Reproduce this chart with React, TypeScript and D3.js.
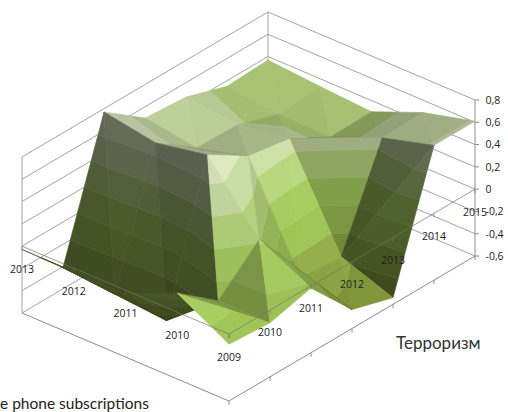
import React from "react";
import * as d3 from "d3";

const xYears = ["2009", "2010", "2011", "2012", "2013", "2014", "2015"];
const seriesYears = ["2009", "2010", "2011", "2012", "2013"];
const zTicks = [-0.6, -0.4, -0.2, 0, 0.2, 0.4, 0.6, 0.8];
const zTickLabels = ["-0,6", "-0,4", "-0,2", "0", "0,2", "0,4", "0,6", "0,8"];

const row2009 = [-0.09, -0.115, -0.02, -0.43, -0.54, 0.61, 0.61];
const row2010 = [0.17, -0.115, 0.22, -0.34, -0.37, 0.48, 0.49];
const row2011 = [-0.03, -0.49, 0.78, 0.55, 0.49, 0.29, 0.3];
const row2012 = [-0.03, -0.45, 0.69, 0.43, 0.42, 0.3, 0.33];
const row2013 = [-0.03, -0.41, 0.77, 0.5, 0.47, 0.35, 0.37];
const rows = [row2009, row2010, row2011, row2012, row2013];

// which diagonal splits each cell: 0 = (u,v)-(u+1,v+1), 1 = (u+1,v)-(u,v+1)
const diag2009 = [1, 0, 1, 0, 1, 0];
const diag2010 = [0, 0, 0, 0, 1, 0];
const diag2011 = [0, 0, 0, 0, 0, 0];
const diag2012 = [0, 0, 0, 0, 1, 0];
const diagonals = [diag2009, diag2010, diag2011, diag2012];

const bandEdges = [-0.6, -0.4, -0.2, 0, 0.2, 0.4, 0.6, 0.8];
const bandColors = ["#869e3e", "#95b04a", "#a0c558", "#a8ce62", "#b9d87f", "#cfe3a8", "#e4efc4"];

const uScale = d3.scalePoint<string>().domain(xYears).range([0, 1]);
const vScale = d3.scalePoint<string>().domain(seriesYears).range([0, 1]);
const zScale = d3.scaleLinear().domain([-0.6, 0.8]).range([0, 156]);

const origin = [229, 401];
const uVec = [246, -145];
const vVec = [-207, -88];

type P = { u: number; v: number; z: number };
const project = (u: number, v: number, z: number): [number, number] => [
  origin[0] + u * uVec[0] + v * vVec[0],
  origin[1] + u * uVec[1] + v * vVec[1] - zScale(z),
];
const pointAt = (ui: number, vi: number): P => ({
  u: uScale(xYears[ui])!,
  v: vScale(seriesYears[vi])!,
  z: rows[vi][ui],
});

const lineGen = d3.line<[number, number]>();
const path3 = (pts: [number, number, number][]) => lineGen(pts.map((p) => project(p[0], p[1], p[2])))!;

function clip(poly: P[], limit: number, keepAbove: boolean): P[] {
  const out: P[] = [];
  for (let i = 0; i < poly.length; i++) {
    const a = poly[i];
    const b = poly[(i + 1) % poly.length];
    const ina = keepAbove ? a.z >= limit : a.z <= limit;
    const inb = keepAbove ? b.z >= limit : b.z <= limit;
    if (ina) out.push(a);
    if (ina !== inb) {
      const t = (limit - a.z) / (b.z - a.z);
      out.push({ u: a.u + t * (b.u - a.u), v: a.v + t * (b.v - a.v), z: limit });
    }
  }
  return out;
}

const CELLS_U = xYears.length - 1;
const CELLS_V = seriesYears.length - 1;

function shade(tri: P[]): number {
  const k = 2;
  const ax = (tri[1].u - tri[0].u) * CELLS_U;
  const ay = (tri[1].v - tri[0].v) * CELLS_V;
  const az = (tri[1].z - tri[0].z) * k;
  const bx = (tri[2].u - tri[0].u) * CELLS_U;
  const by = (tri[2].v - tri[0].v) * CELLS_V;
  const bz = (tri[2].z - tri[0].z) * k;
  let nx = ay * bz - az * by;
  let ny = az * bx - ax * bz;
  let nz = ax * by - ay * bx;
  if (nz < 0) {
    nx = -nx;
    ny = -ny;
    nz = -nz;
  }
  const len = Math.hypot(nx, ny, nz);
  nx /= len;
  ny /= len;
  nz /= len;
  // backface check on screen
  const s = tri.map((p) => project(p.u, p.v, p.z));
  const f = tri.map((p) => [origin[0] + p.u * uVec[0] + p.v * vVec[0], origin[1] + p.u * uVec[1] + p.v * vVec[1]]);
  const cross = (q: number[][]) => (q[1][0] - q[0][0]) * (q[2][1] - q[0][1]) - (q[1][1] - q[0][1]) * (q[2][0] - q[0][0]);
  if (cross(s) * cross(f) < 0) return 0.42;
  const val = 0.47 - 0.25 * nx * nx - 0.38 * ny + 0.4 * nz;
  return Math.max(0.4, Math.min(1, val));
}

type Poly = { d: string; fill: string };
function buildSurface(): Poly[] {
  const polys: Poly[] = [];
  for (let vi = CELLS_V - 1; vi >= 0; vi--) {
    for (let ui = CELLS_U - 1; ui >= 0; ui--) {
      const a = pointAt(ui, vi);
      const b = pointAt(ui + 1, vi);
      const c = pointAt(ui + 1, vi + 1);
      const d = pointAt(ui, vi + 1);
      const tris = diagonals[vi][ui] === 0 ? [[a, c, d], [a, b, c]] : [[b, c, d], [a, b, d]];
      for (const tri of tris) {
        const f = shade(tri);
        bandColors.forEach((col, i) => {
          let poly = clip(tri, bandEdges[i], true);
          if (poly.length) poly = clip(poly, bandEdges[i + 1], false);
          if (poly.length < 3) return;
          const rgb = d3.rgb(col);
          const fill = d3.rgb(rgb.r * f, rgb.g * f, rgb.b * f).formatHex();
          polys.push({ d: lineGen(poly.map((p) => project(p.u, p.v, p.z)))! + "Z", fill });
        });
      }
    }
  }
  return polys;
}

const GRID = "#a3a3a3";
const AXIS = "#8c8c8c";
const tickFont = "'Open Sans', 'Noto Sans', sans-serif";
const titleFont = "Lato, 'Noto Sans', sans-serif";

export default function App() {
  const surface = buildSurface();
  const zPlaneFrontV = xYears.map((y) => uScale(y)!);
  const zPlaneFrontU = seriesYears.map((y) => vScale(y)!);
  return (
    <svg width={508} height={412} style={{ position: "absolute", left: 0, top: 0, display: "block", background: "#fff" }}>
      {/* walls */}
      {zTicks.map((z) => (
        <g key={z} stroke={GRID} strokeWidth={1} fill="none">
          <path d={path3([[0, 1, z], [1, 1, z], [1, 0, z]])} />
        </g>
      ))}
      <path d={path3([[0, 1, -0.6], [0, 1, 0.8]])} stroke={GRID} fill="none" />
      <path d={path3([[1, 1, -0.6], [1, 1, 0.8]])} stroke={GRID} fill="none" />
      <path d={path3([[1, 0, -0.6], [1, 0, 0.8]])} stroke={AXIS} fill="none" />
      {/* floor front */}
      <path d={path3([[0, 1, -0.6], [0, 0, -0.6], [1, 0, -0.6]])} stroke={AXIS} fill="none" />
      {zPlaneFrontV.map((u) => {
        const [x, y] = project(u, 0, -0.6);
        return <line key={u} x1={x} x2={x} y1={y} y2={y + 4} stroke={AXIS} />;
      })}
      {/* surface */}
      <g>
        {surface.map((p, i) => (
          <path key={i} d={p.d} fill={p.fill} stroke={p.fill} strokeWidth={0.6} strokeLinejoin="round" />
        ))}
      </g>
      {/* z = 0 plane axes, drawn over the surface */}
      <path d={path3([[0, 1, 0], [0, 0, 0], [1, 0, 0]])} stroke="#6f7668" strokeOpacity={0.7} fill="none" />
      {zPlaneFrontV.map((u) => {
        const [x, y] = project(u, 0, 0);
        return <line key={u} x1={x} x2={x} y1={y} y2={y + 4} stroke="#6f7668" strokeOpacity={0.7} />;
      })}
      {zPlaneFrontU.map((v) => {
        const [x, y] = project(0, v, 0);
        return <line key={v} x1={x} x2={x} y1={y} y2={y + 4} stroke="#6f7668" strokeOpacity={0.55} />;
      })}
      {/* z ticks */}
      {zTicks.map((z, i) => {
        const [x, y] = project(1, 0, z);
        return (
          <g key={z}>
            <line x1={x} x2={x + 4} y1={y} y2={y} stroke={AXIS} />
            <text x={x + 10.5} y={y + 3.8} fontFamily={tickFont} fontSize={10.5} fill="#222">{zTickLabels[i]}</text>
          </g>
        );
      })}
      {/* category labels */}
      {xYears.map((l) => {
        const [x, y] = project(uScale(l)!, 0, 0);
        return (
          <text key={l} x={x} y={y + 26.5} textAnchor="middle" fontFamily={tickFont} fontSize={10.5} fill="#222">{l}</text>
        );
      })}
      {seriesYears.slice(1).map((l) => {
        const [x, y] = project(0, vScale(l)!, 0);
        return (
          <text key={l} x={x} y={y + 26.5} textAnchor="middle" fontFamily={tickFont} fontSize={10.5} fill="#222">{l}</text>
        );
      })}
      {/* titles */}
      <text x={396} y={349} fontFamily={titleFont} fontSize={17} fill="#333">Терроризм</text>
      <text x={0} y={409} fontFamily={titleFont} fontSize={15.5} fill="#222">e phone subscriptions</text>
    </svg>
  );
}
